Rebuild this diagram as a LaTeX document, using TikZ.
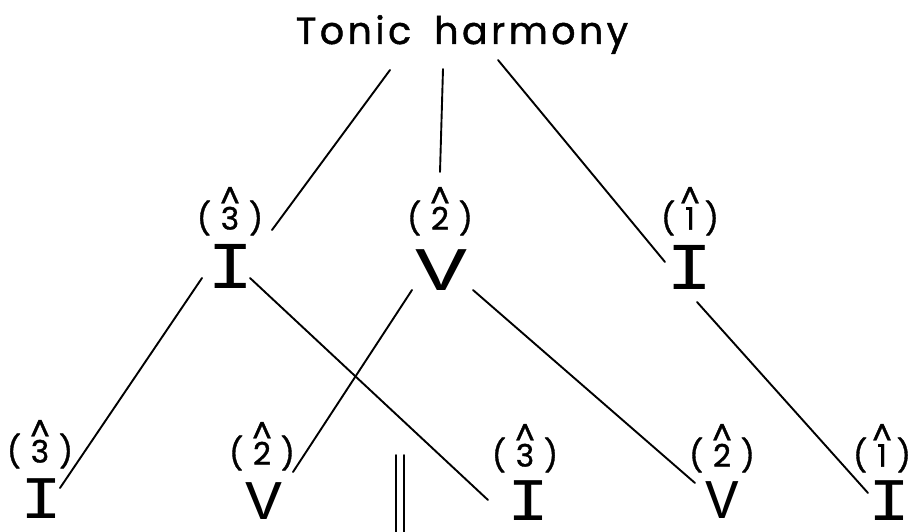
\documentclass[tikz,border=0pt]{standalone}
\usepackage{fontspec}
\setmainfont{Poppins}
\newfontfamily\hand[FakeBold=1.2]{Poppins}
\newfontfamily\handwide[LetterSpace=9,FakeBold=1.2]{Poppins}
\newfontfamily\mono{Liberation Mono}
\newcommand{\hatdeg}[1]{\ooalign{#1\cr\hidewidth\raisebox{0.68em}{\^{}}\hidewidth\cr}}
\newcommand{\scdeg}[1]{(\hspace{0.32em}\hatdeg{#1}\hspace{0.32em})}
\newcommand{\wideI}{\scalebox{1.25}[1.08]{I}}
\tikzset{
  title/.style={inner sep=0pt, anchor=base, font=\handwide\fontsize{38}{42}\selectfont},
  degree/.style={inner sep=0pt, font=\hand\fontsize{31}{34}\selectfont},
  chord/.style={inner sep=0pt, font=\mono\fontsize{62}{66}\selectfont},
  chordsm/.style={inner sep=0pt, font=\mono\fontsize{56}{60}\selectfont},
  conn/.style={line width=1.9pt, line cap=round},
}
\begin{document}
\begin{tikzpicture}[x=1pt,y=-1pt]
\useasboundingbox (0,0) rectangle (910,532);
% title
\node[title] (t) at (462,44) {Tonic\hspace{0.25em} harmony};
% level 2
\node[degree] (d2a) at (230,218) {\scdeg{3}};
\node[chord]  (c2a) at (231,266) {\wideI};
\node[degree] (d2b) at (440,218) {\scdeg{2}};
\node[chord]  (c2b) at (442,270) {\scalebox{1.4}[1]{V}};
\node[degree] (d2c) at (690,218) {\scdeg{1}};
\node[chord]  (c2c) at (690,267) {\wideI};
% level 3
\node[degree] (d3a) at (40,451)  {\scdeg{3}};
\node[chordsm] (c3a) at (42,499)  {\wideI};
\node[degree] (d3b) at (262,453) {\scdeg{2}};
\node[chordsm] (c3b) at (264,501) {\scalebox{1.1}[1]{V}};
\node[degree] (d3c) at (525,455) {\scdeg{3}};
\node[chordsm] (c3c) at (528,501) {\wideI};
\node[degree] (d3d) at (722,455) {\scdeg{2}};
\node[chordsm] (c3d) at (722,500) {V};
\node[degree] (d3e) at (882,455) {\scdeg{1}};
\node[chordsm] (c3e) at (889,501) {\wideI};
% connectors
\draw[conn] ([shift={(-72,26)}]t.base) -- ([shift={(42,12)}]d2a.center);
\draw[conn] ([shift={(-19,25)}]t.base) -- ([shift={(0,-46)}]d2b.center);
\draw[conn] ([shift={(36,16)}]t.base) -- ([shift={(-25,-5)}]c2c.center);
\draw[conn] ([shift={(-29,12)}]c2a.center) -- ([shift={(18,-11)}]c3a.center);
\draw[conn] ([shift={(19,12)}]c2a.center) -- ([shift={(-40,-1)}]c3c.center);
\draw[conn] ([shift={(-30,20)}]c2b.center) -- ([shift={(31,19)}]d3b.center);
\draw[conn] ([shift={(31,20)}]c2b.center) -- ([shift={(-27,-17)}]c3d.center);
\draw[conn] ([shift={(7,35)}]c2c.center) -- ([shift={(-21,-8)}]c3e.center);
% double bar
\draw[conn] (396,455) -- (396,532);
\draw[conn] (404,455) -- (404,532);
\end{tikzpicture}
\end{document}
